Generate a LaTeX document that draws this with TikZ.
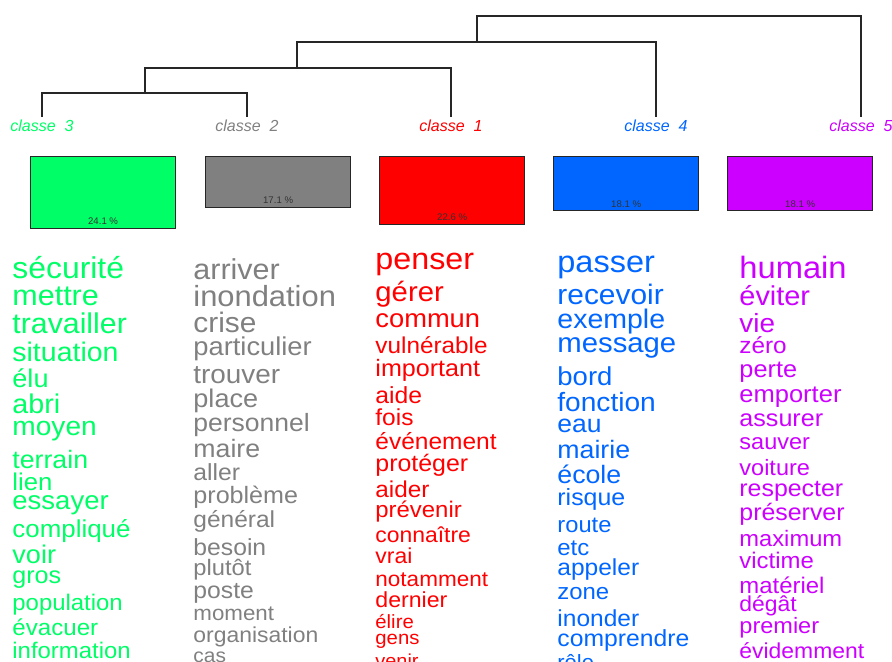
\documentclass[tikz,border=0pt]{standalone}
\usepackage{fontspec}
\setmainfont{Liberation Sans}
\definecolor{cthree}{HTML}{00FF66}
\definecolor{ctwo}{HTML}{808080}
\definecolor{cone}{HTML}{FF0000}
\definecolor{cfour}{HTML}{0066FF}
\definecolor{cfive}{HTML}{CC00FF}
\begin{document}
\begin{tikzpicture}[x=0.5pt,y=-0.5pt,
  link/.style={line width=0.75pt, black!85},
  leaf/.style={font=\fontsize{8}{8}\selectfont\itshape, anchor=base, inner sep=0},
  bar/.style={draw=black!85, line width=0.6pt, anchor=north west, inner sep=0, minimum width=72.5pt},
  pct/.style={font=\fontsize{4.8}{4.8}\selectfont, text=black!80, anchor=base, inner sep=0},
  word/.style={anchor=base west, inner sep=0, text=#1, xscale=1.06, transform shape}]
\useasboundingbox (0,0) rectangle (892,661);
\clip (0,0) rectangle (892,661);
% dendrogram
\coordinate (l3) at (42,117);
\coordinate (l2) at (247,117);
\coordinate (l1) at (451,117);
\coordinate (l4) at (656,117);
\coordinate (l5) at (861,117);
\coordinate (m32) at (145,93);
\coordinate (m321) at (297,68);
\coordinate (m4) at (477,42);
\coordinate (root) at (669,16);
\draw[link] (l3) |- (m32) -| (l2);
\draw[link] (m32) |- (m321) -| (l1);
\draw[link] (m321) |- (m4) -| (l4);
\draw[link] (m4) |- (root) -| (l5);
\node[leaf, text=cthree] (t3) at (42,131) {classe\ \ 3};
\node[leaf, text=ctwo] (t2) at (247,131) {classe\ \ 2};
\node[leaf, text=cone] (t1) at (451,131) {classe\ \ 1};
\node[leaf, text=cfour] (t4) at (656,131) {classe\ \ 4};
\node[leaf, text=cfive] (t5) at (861,131) {classe\ \ 5};
% class sizes
\node[bar, fill=cthree, minimum height=36pt] (b3) at (30,156) {};
\node[bar, fill=ctwo, minimum height=25.5pt] (b2) at (205,156) {};
\node[bar, fill=cone, minimum height=34pt] (b1) at (379,156) {};
\node[bar, fill=cfour, minimum height=27pt] (b4) at (553,156) {};
\node[bar, fill=cfive, minimum height=27pt] (b5) at (727,156) {};
\node[pct] (p3) at ([yshift=2.4pt]b3.south) {24.1 \%};
\node[pct] (p2) at ([yshift=2.2pt]b2.south) {17.1 \%};
\node[pct] (p1) at ([yshift=2.3pt]b1.south) {22.6 \%};
\node[pct] (p4) at ([yshift=2pt]b4.south) {18.1 \%};
\node[pct] (p5) at ([yshift=2pt]b5.south) {18.1 \%};
% words per class
\foreach \w/\s/\b [count=\i, evaluate=\s as \fs using 0.94*\s] in {sécurité/16/278, mettre/15.3/305, travailler/15.2/333,
  situation/14.3/361, élu/13.6/387, abri/14.4/413, moyen/14.1/435, terrain/13.4/468,
  lien/12.9/490, essayer/13.8/509, compliqué/13/537, voir/13.6/563, gros/12.6/583,
  population/12/610, évacuer/12.1/635, information/12/658}
  \node[word=cthree, font=\fontsize{\fs}{\fs}\selectfont] (w3\i) at (12,\b) {\w};
\foreach \w/\s/\b [count=\i, evaluate=\s as \fs using 0.94*\s] in {arriver/15.3/279, inondation/15.5/306, crise/15/332,
  particulier/13.7/355, trouver/14/383, place/13.6/407, personnel/13.3/431, maire/13.4/457,
  aller/12.4/480, problème/12.6/503, général/12.3/527, besoin/12.4/555, plutôt/11.9/575,
  poste/12.4/598, moment/11.2/620, organisation/11.5/642, cas/10.5/662}
  \node[word=ctwo, font=\fontsize{\fs}{\fs}\selectfont] (w2\i) at (193,\b) {\w};
\foreach \w/\s/\b [count=\i, evaluate=\s as \fs using 0.94*\s] in {penser/16.2/269, gérer/14.7/301, commun/13.7/327,
  vulnérable/12.2/353, important/12.6/376, aide/12.4/403, fois/12.3/425, événement/12.3/449,
  protéger/12.5/471, aider/12.2/497, prévenir/12/517, connaître/11.5/542, vrai/11.5/563,
  notamment/11.3/586, dernier/11.6/607, élire/10.2/628, gens/10.2/644, venir/10/667}
  \node[word=cone, font=\fontsize{\fs}{\fs}\selectfont] (w1\i) at (375,\b) {\w};
\foreach \w/\s/\b [count=\i, evaluate=\s as \fs using 0.94*\s] in {passer/16.3/272, recevoir/15/304, exemple/14.3/328,
  message/14.7/352, bord/13.8/385, fonction/14.1/411, eau/13.3/432, mairie/13.4/458,
  école/13.4/483, risque/12.5/505, route/11.9/532, etc/12/555, appeler/12.3/575,
  zone/12/599, inonder/12.3/626, comprendre/12.4/646, rôle/11/669}
  \node[word=cfour, font=\fontsize{\fs}{\fs}\selectfont] (w4\i) at (557,\b) {\w};
\foreach \w/\s/\b [count=\i, evaluate=\s as \fs using 0.94*\s] in {humain/16.4/278, éviter/14.5/305, vie/14/332,
  zéro/12.2/353, perte/12.7/377, emporter/12.8/402, assurer/12.6/426, sauver/11.8/449,
  voiture/11.8/475, respecter/12.5/496, préserver/12.5/520, maximum/11.9/546,
  victime/12/568, matériel/12/593, dégât/11.5/611, premier/11.8/633, évidemment/11.5/658}
  \node[word=cfive, font=\fontsize{\fs}{\fs}\selectfont] (w5\i) at (739,\b) {\w};
\end{tikzpicture}
\end{document}
